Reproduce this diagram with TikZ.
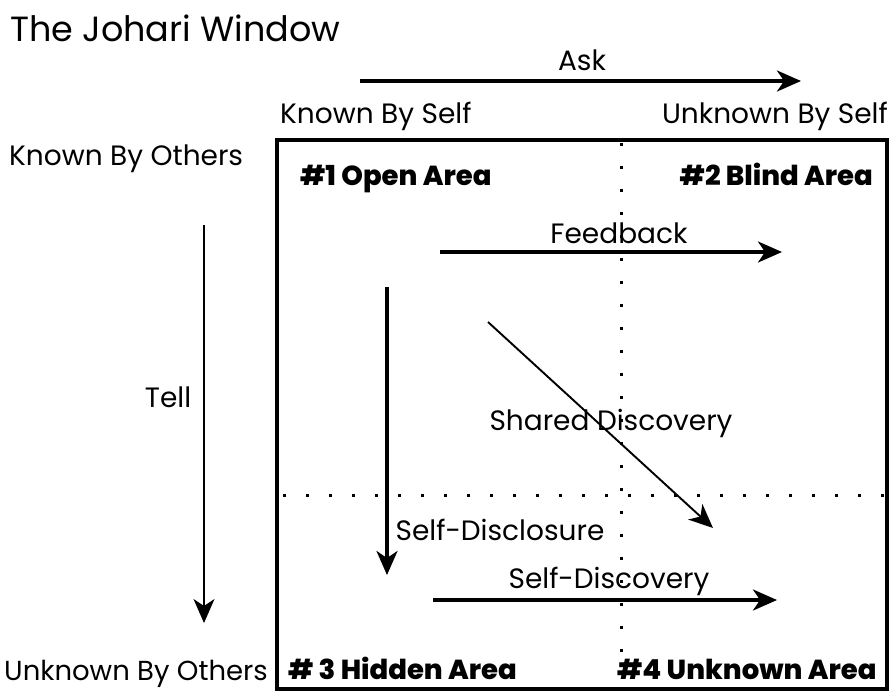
\documentclass[tikz,border=0pt]{standalone}
\usepackage{fontspec}
\setmainfont{Poppins}
\newfontfamily\areafont{Poppins ExtraBold}
\usetikzlibrary{arrows.meta}
\begin{document}
\begin{tikzpicture}[x=1pt,y=-1pt,
  lbl/.style={inner sep=0pt,font=\fontsize{28}{30}\selectfont},
  area/.style={inner sep=0pt,font=\areafont\fontsize{27.5}{29}\selectfont},
  ttl/.style={inner sep=0pt,font=\fontsize{35}{40}\selectfont},
  tip/.style={-{Stealth[length=24pt,width=21pt,inset=7pt]}},
  heavy/.style={tip,line width=3.2pt},
  light/.style={tip,line width=1.9pt},
  dots/.style={line width=3pt,dash pattern=on 3pt off 20pt}]
\useasboundingbox (0,0) rectangle (891,691);
\fill[white] (0,0) rectangle (891,691);

% title and axis captions
\node[ttl,anchor=base west] (title) at (10,41) {The Johari Window};
\node[lbl,anchor=base] (ask) at (582,70) {Ask};
\node[lbl,anchor=base west] (kself) at (280,123) {Known By Self};
\node[lbl,anchor=base east] (uself) at (888,123) {Unknown By Self};
\node[lbl,anchor=base west] (kothers) at (9,165) {Known By Others};
\node[lbl,anchor=base west,font=\fontsize{27.5}{30}\selectfont] (uothers) at (4,680) {Unknown By Others};
\node[lbl,anchor=base] (tell) at (168,407) {Tell};

% the window and its quadrant dividers
\draw[line width=3.5pt] (277,140) rectangle (887,689);
\draw[dots] (621,143) -- (621,660);
\draw[dots] (283,495) -- (887,495);

% quadrant names
\node[area,anchor=base west] (open) at (300,185) {\#1 Open Area};
\node[area,anchor=base east] (blind) at (873,185) {\#2 Blind Area};
\node[area,anchor=base west] (hidden) at (288,679) {\# 3 Hidden Area};
\node[area,anchor=base west] (unknown) at (617,679) {\#4 Unknown Area};

% arrow end points
\coordinate (askA) at (360,81);
\coordinate (askB) at (801,81);
\coordinate (tellA) at (204,225);
\coordinate (tellB) at (204,623);
\coordinate (fbA) at (440,252);
\coordinate (fbB) at (782,252);
\coordinate (sdA) at (387,287);
\coordinate (sdB) at (387,575);
\coordinate (shA) at (488,322);
\coordinate (shB) at (713,528);
\coordinate (scA) at (433,600);
\coordinate (scB) at (777,600);

\draw[heavy] (askA) -- (askB);
\draw[light] (tellA) -- (tellB);
\draw[heavy] (fbA) -- (fbB);
\draw[heavy] (sdA) -- (sdB);
\draw[light] (shA) -- (shB);
\draw[heavy] (scA) -- (scB);

% arrow captions
\node[lbl,anchor=base] (fb) at (619,243) {Feedback};
\node[lbl,anchor=base] (sh) at (611,430) {Shared Discovery};
\node[lbl,anchor=base] (sd) at (500,540) {Self-Disclosure};
\node[lbl,anchor=base] (sc) at (609,588) {Self-Discovery};
\end{tikzpicture}
\end{document}
